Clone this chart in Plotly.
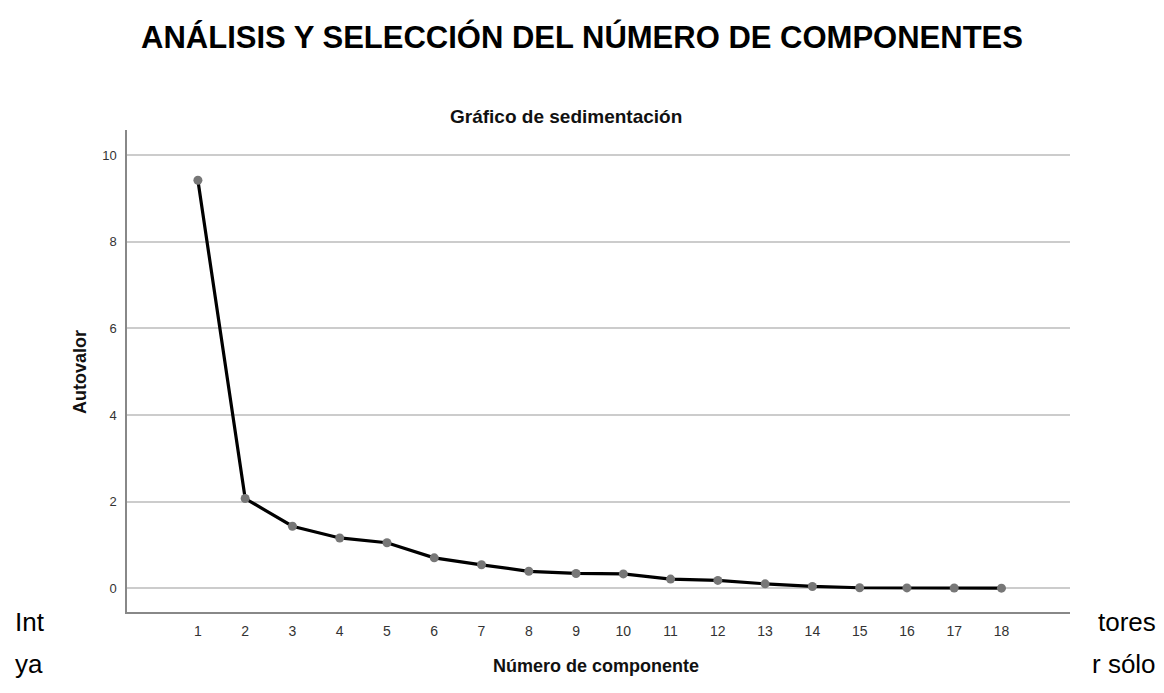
import plotly.graph_objects as go

componentes = list(range(1, 19))
autovalores = [9.42, 2.07, 1.43, 1.16, 1.05, 0.70, 0.54, 0.39, 0.34, 0.33,
               0.21, 0.18, 0.10, 0.04, 0.01, 0.006, 0.003, 0.001]
y_ticks = [0, 2, 4, 6, 8, 10]

W, H = 1164, 693
L, R, T, B = 127, 1070, 130, 612


def px(x):
    return (x - L) / (R - L)


def py(y):
    return (B - y) / (B - T)


fig = go.Figure()
fig.add_trace(go.Scatter(
    x=componentes, y=autovalores, mode="lines+markers",
    line=dict(color="black", width=3.2),
    marker=dict(color="#777777", size=9, line=dict(width=0)),
    showlegend=False, hoverinfo="x+y"))

font_f = "Liberation Sans, Arial, sans-serif"
ann = []
ann.append(dict(text="<b>Gráfico de sedimentación</b>", x=px(566), y=py(116),
                xref="paper", yref="paper", showarrow=False,
                font=dict(size=19, color="#111", family=font_f), xanchor="center", yanchor="middle"))
ann.append(dict(text="<b>Número de componente</b>", x=px(596), y=py(666),
                xref="paper", yref="paper", showarrow=False,
                font=dict(size=18, color="#111", family=font_f), xanchor="center", yanchor="middle"))
ann.append(dict(text="<b>Autovalor</b>", x=px(80), y=py(372), textangle=-90,
                xref="paper", yref="paper", showarrow=False,
                font=dict(size=18, color="#111", family=font_f), xanchor="center", yanchor="middle"))
for txt, xx, yy, anc in [("Int", 13, 622, "left"), ("ya", 13, 664, "left"),
                         ("tores", 1158, 622, "right"), ("r sólo", 1158, 664, "right")]:
    ann.append(dict(text=txt, x=px(xx), y=py(yy), xref="paper", yref="paper",
                    showarrow=False, font=dict(size=26, color="black", family=font_f),
                    xanchor=anc, yanchor="middle"))

fig.update_layout(
    width=W, height=H,
    margin=dict(l=L, r=W - R, t=T, b=H - B, pad=0),
    paper_bgcolor="white", plot_bgcolor="white",
    title=dict(text="<b>ANÁLISIS Y SELECCIÓN DEL NÚMERO DE COMPONENTES</b>",
               x=582 / W, xanchor="center", y=1 - 37 / H, yanchor="middle",
               xref="container", yref="container",
               font=dict(size=31, color="black", family=font_f)),
    annotations=ann,
    xaxis=dict(range=[-0.5, 19.45], tickmode="array", tickvals=componentes,
               ticktext=[str(c) for c in componentes], showgrid=False,
               zeroline=False, showline=True, linecolor="#888", linewidth=1.5,
               ticks="", ticklabelstandoff=5,
               tickfont=dict(size=14, color="#333", family=font_f)),
    yaxis=dict(range=[-0.55, 10.58], tickmode="array", tickvals=y_ticks,
               showgrid=True, gridcolor="#cccccc", gridwidth=1.5,
               zeroline=False, showline=True, linecolor="#888", linewidth=1.5,
               ticks="", ticklabelstandoff=6,
               tickfont=dict(size=13, color="#333", family=font_f)),
)

fig.write_html("out.html", config={"displayModeBar": False},
               post_script="document.body.style.margin='0';")
